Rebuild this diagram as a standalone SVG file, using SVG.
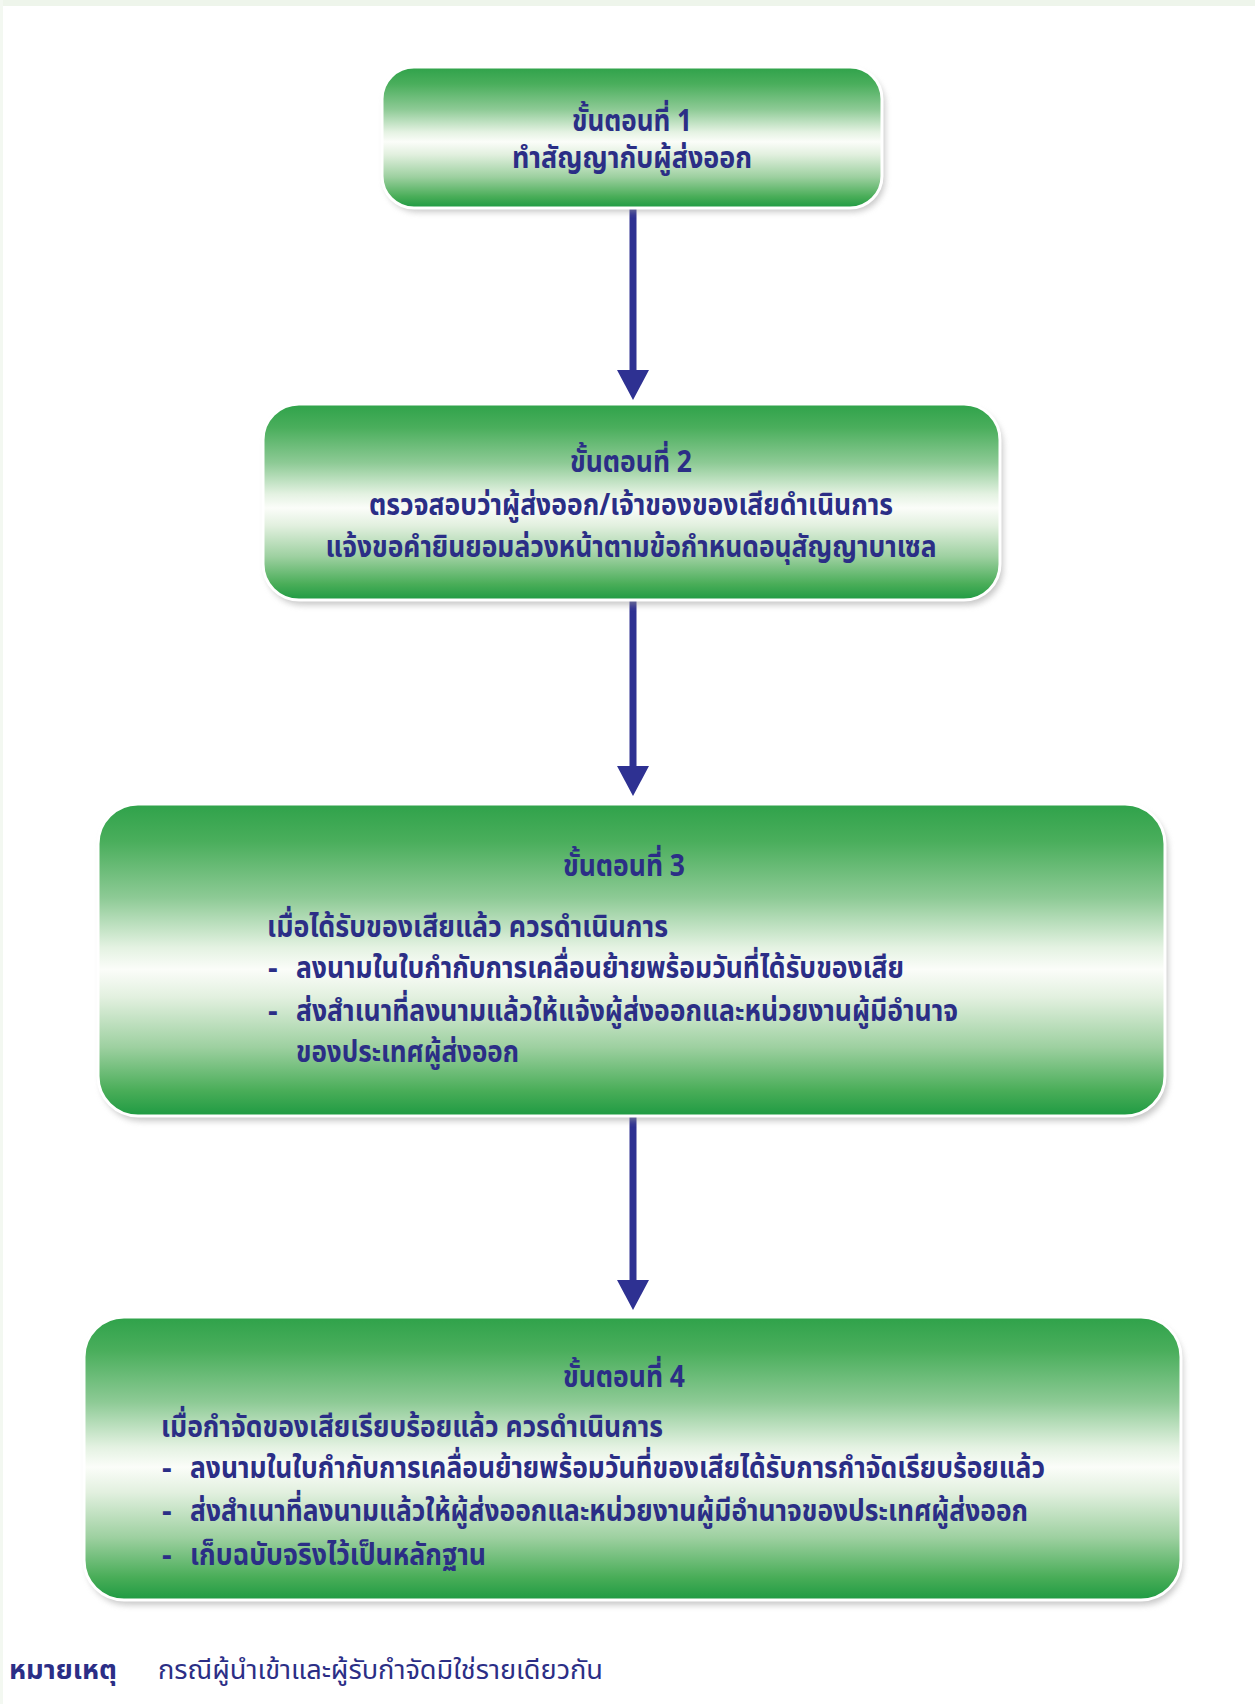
<svg xmlns="http://www.w3.org/2000/svg" width="1255" height="1704" viewBox="0 0 1255 1704">
<style>
.t{font-family:"Noto Sans Thai","Noto Sans","DejaVu Sans",sans-serif;fill:#2b2e86;font-weight:bold;font-size:30px}
.ttl{text-anchor:middle}
.box{fill:url(#g);stroke:#ffffff;stroke-width:3}
.sh{fill:#9a9a9a;filter:url(#blur);opacity:0.55}
.conn{stroke:#2e3192;stroke-width:7;fill:none}
.note{font-family:"Noto Sans Thai","Noto Sans","DejaVu Sans",sans-serif;fill:#2b2e86;font-size:27px}
</style>
<defs>
<linearGradient id="g" x1="0" y1="0" x2="0" y2="1">
<stop offset="0" stop-color="#2fa24a"/>
<stop offset="0.12" stop-color="#4aae5c"/>
<stop offset="0.3" stop-color="#8dca95"/>
<stop offset="0.46" stop-color="#e4f2e2"/>
<stop offset="0.53" stop-color="#fbfdf9"/>
<stop offset="0.62" stop-color="#e2f0df"/>
<stop offset="0.78" stop-color="#9dd0a0"/>
<stop offset="0.92" stop-color="#49ad58"/>
<stop offset="1" stop-color="#1e9a42"/>
</linearGradient>
<filter id="blur" x="-10%" y="-10%" width="120%" height="130%"><feGaussianBlur stdDeviation="3"/></filter>
<marker id="ah" markerUnits="userSpaceOnUse" markerWidth="32" markerHeight="32" refX="2" refY="16" orient="auto">
<path d="M0,0 L30,16 L0,32 z" fill="#2e3192"/>
</marker>
</defs>
<rect x="0" y="0" width="1255" height="1704" fill="#ffffff"/>
<rect x="0" y="0" width="1255" height="6" fill="#eef5eb"/>
<rect x="0" y="0" width="3" height="1704" fill="#f3f8f1"/>

<g id="connectors">
<line class="conn" x1="633" y1="209" x2="633" y2="372" marker-end="url(#ah)"/>
<line class="conn" x1="633" y1="600" x2="633" y2="768" marker-end="url(#ah)"/>
<line class="conn" x1="633" y1="1116" x2="633" y2="1282" marker-end="url(#ah)"/>
</g>

<g id="step1">
<rect class="sh" x="385" y="72" width="500" height="140" rx="32"/>
<rect class="box" x="382" y="67" width="500" height="141" rx="32"/>
<text class="t ttl" x="632" y="131" textLength="120" lengthAdjust="spacingAndGlyphs">ขั้นตอนที่ 1</text>
<text class="t ttl" x="632" y="168" textLength="240" lengthAdjust="spacingAndGlyphs">ทำสัญญากับผู้ส่งออก</text>
</g>

<g id="step2">
<rect class="sh" x="266" y="409" width="737" height="196" rx="36"/>
<rect class="box" x="263" y="404" width="737" height="196" rx="36"/>
<text class="t ttl" x="631" y="472" textLength="122" lengthAdjust="spacingAndGlyphs">ขั้นตอนที่ 2</text>
<text class="t ttl" x="631" y="515" textLength="524" lengthAdjust="spacingAndGlyphs">ตรวจสอบว่าผู้ส่งออก/เจ้าของของเสียดำเนินการ</text>
<text class="t ttl" x="631" y="557" textLength="611" lengthAdjust="spacingAndGlyphs">แจ้งขอคำยินยอมล่วงหน้าตามข้อกำหนดอนุสัญญาบาเซล</text>
</g>

<g id="step3">
<rect class="sh" x="101" y="809" width="1067" height="312" rx="40"/>
<rect class="box" x="98" y="804" width="1067" height="312" rx="40"/>
<text class="t ttl" x="624" y="876" textLength="122" lengthAdjust="spacingAndGlyphs">ขั้นตอนที่ 3</text>
<text class="t" x="267" y="937" textLength="401" lengthAdjust="spacingAndGlyphs">เมื่อได้รับของเสียแล้ว ควรดำเนินการ</text>
<text class="t" x="268" y="978">-</text>
<text class="t" x="296" y="978" textLength="608" lengthAdjust="spacingAndGlyphs">ลงนามในใบกำกับการเคลื่อนย้ายพร้อมวันที่ได้รับของเสีย</text>
<text class="t" x="268" y="1021">-</text>
<text class="t" x="296" y="1021" textLength="662" lengthAdjust="spacingAndGlyphs">ส่งสำเนาที่ลงนามแล้วให้แจ้งผู้ส่งออกและหน่วยงานผู้มีอำนาจ</text>
<text class="t" x="296" y="1062" textLength="223" lengthAdjust="spacingAndGlyphs">ของประเทศผู้ส่งออก</text>
</g>

<g id="step4">
<rect class="sh" x="87" y="1322" width="1096" height="283" rx="40"/>
<rect class="box" x="84" y="1317" width="1097" height="283" rx="40"/>
<text class="t ttl" x="624" y="1387" textLength="122" lengthAdjust="spacingAndGlyphs">ขั้นตอนที่ 4</text>
<text class="t" x="161" y="1437" textLength="502" lengthAdjust="spacingAndGlyphs">เมื่อกำจัดของเสียเรียบร้อยแล้ว ควรดำเนินการ</text>
<text class="t" x="162" y="1478">-</text>
<text class="t" x="190" y="1478" textLength="855" lengthAdjust="spacingAndGlyphs">ลงนามในใบกำกับการเคลื่อนย้ายพร้อมวันที่ของเสียได้รับการกำจัดเรียบร้อยแล้ว</text>
<text class="t" x="162" y="1521">-</text>
<text class="t" x="190" y="1521" textLength="838" lengthAdjust="spacingAndGlyphs">ส่งสำเนาที่ลงนามแล้วให้ผู้ส่งออกและหน่วยงานผู้มีอำนาจของประเทศผู้ส่งออก</text>
<text class="t" x="162" y="1565">-</text>
<text class="t" x="190" y="1565" textLength="296" lengthAdjust="spacingAndGlyphs">เก็บฉบับจริงไว้เป็นหลักฐาน</text>
</g>

<g id="note">
<text class="note" x="9" y="1679" font-weight="bold" textLength="108" lengthAdjust="spacingAndGlyphs">หมายเหตุ</text>
<text class="note" x="158" y="1679" textLength="445" lengthAdjust="spacingAndGlyphs">กรณีผู้นำเข้าและผู้รับกำจัดมิใช่รายเดียวกัน</text>
</g>
</svg>
